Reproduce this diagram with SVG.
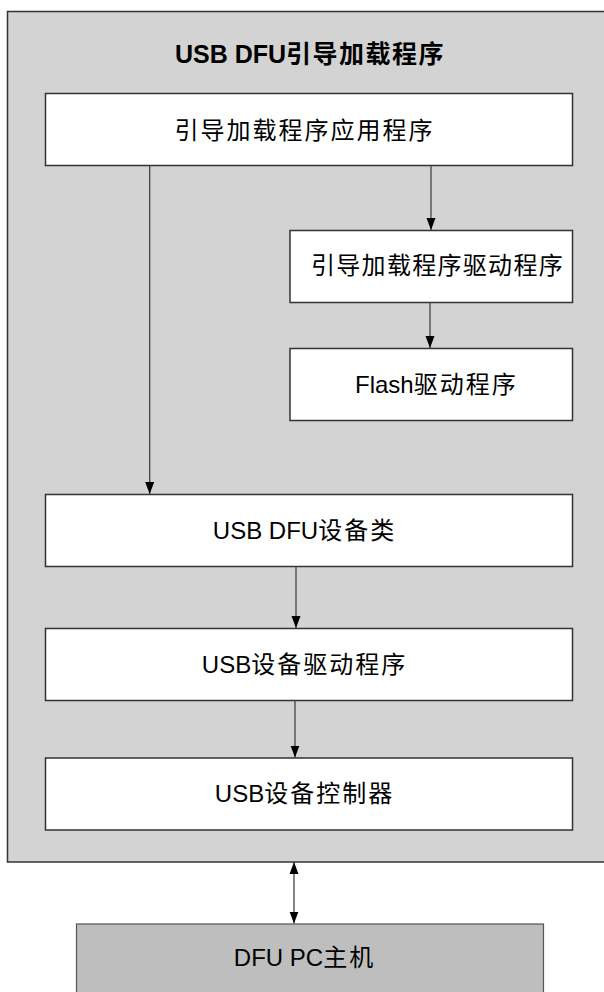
<svg xmlns="http://www.w3.org/2000/svg" width="604" height="992" viewBox="0 0 604 992">
<defs>
<style>
.outer{fill:#d3d3d3;stroke:#333;stroke-width:1.5}
.box{fill:#fff;stroke:#333;stroke-width:1.5}
.pc{fill:#bebebe;stroke:#555;stroke-width:1.2}
.t{font-family:"Liberation Sans","Noto Sans CJK SC",sans-serif;font-size:24px;fill:#000;letter-spacing:2px}
.l{letter-spacing:0}
.title{font-weight:bold;font-size:25px;letter-spacing:1.5px}
.c{stroke:#444;stroke-width:1.3;fill:none}
</style>
<marker id="ah" viewBox="0 0 12 10" refX="12" refY="5" markerWidth="12" markerHeight="10" markerUnits="userSpaceOnUse" orient="auto-start-reverse">
<path d="M0,0.5 L12,5 L0,9.5 z" fill="#000"/>
</marker>
</defs>
<g id="bootloader">
<rect class="outer" x="7.5" y="11.5" width="610" height="850.5"/>
<text class="t title" x="310" y="63" text-anchor="middle"><tspan class="l">USB DFU</tspan>引导加载程序</text>
</g>
<g id="app">
<rect class="box" x="45.5" y="93.5" width="527" height="72"/>
<text class="t" x="304.5" y="139" text-anchor="middle">引导加载程序应用程序</text>
</g>
<g id="bldriver">
<rect class="box" x="290" y="230.5" width="282.5" height="72"/>
<text class="t" x="311" y="274" style="letter-spacing:1.3px">引导加载程序驱动程序</text>
</g>
<g id="flash">
<rect class="box" x="290" y="348.5" width="282.5" height="72"/>
<text class="t" x="355" y="393"><tspan class="l">Flash</tspan>驱动程序</text>
</g>
<g id="dfuclass">
<rect class="box" x="45.5" y="494.5" width="527" height="72"/>
<text class="t" x="304.5" y="539" text-anchor="middle"><tspan class="l">USB DFU</tspan>设备类</text>
</g>
<g id="usbdriver">
<rect class="box" x="45.5" y="628.5" width="527" height="72"/>
<text class="t" x="304.5" y="673" text-anchor="middle"><tspan class="l">USB</tspan>设备驱动程序</text>
</g>
<g id="controller">
<rect class="box" x="45.5" y="758" width="527" height="72"/>
<text class="t" x="304.5" y="802" text-anchor="middle"><tspan class="l">USB</tspan>设备控制器</text>
</g>
<g id="pchost">
<rect class="pc" x="76.5" y="924" width="467" height="80"/>
<text class="t" x="304.5" y="966" text-anchor="middle"><tspan class="l">DFU PC</tspan>主机</text>
</g>
<g id="connectors">
<line class="c" x1="149.7" y1="165.5" x2="149.7" y2="494" marker-end="url(#ah)"/>
<line class="c" x1="431" y1="165.5" x2="431" y2="230" marker-end="url(#ah)"/>
<line class="c" x1="430" y1="302.5" x2="430" y2="348" marker-end="url(#ah)"/>
<line class="c" x1="296" y1="566.5" x2="296" y2="628" marker-end="url(#ah)"/>
<line class="c" x1="295" y1="700.5" x2="295" y2="757.5" marker-end="url(#ah)"/>
<line class="c" x1="294" y1="862" x2="294" y2="923.5" marker-start="url(#ah)" marker-end="url(#ah)"/>
</g>
</svg>
